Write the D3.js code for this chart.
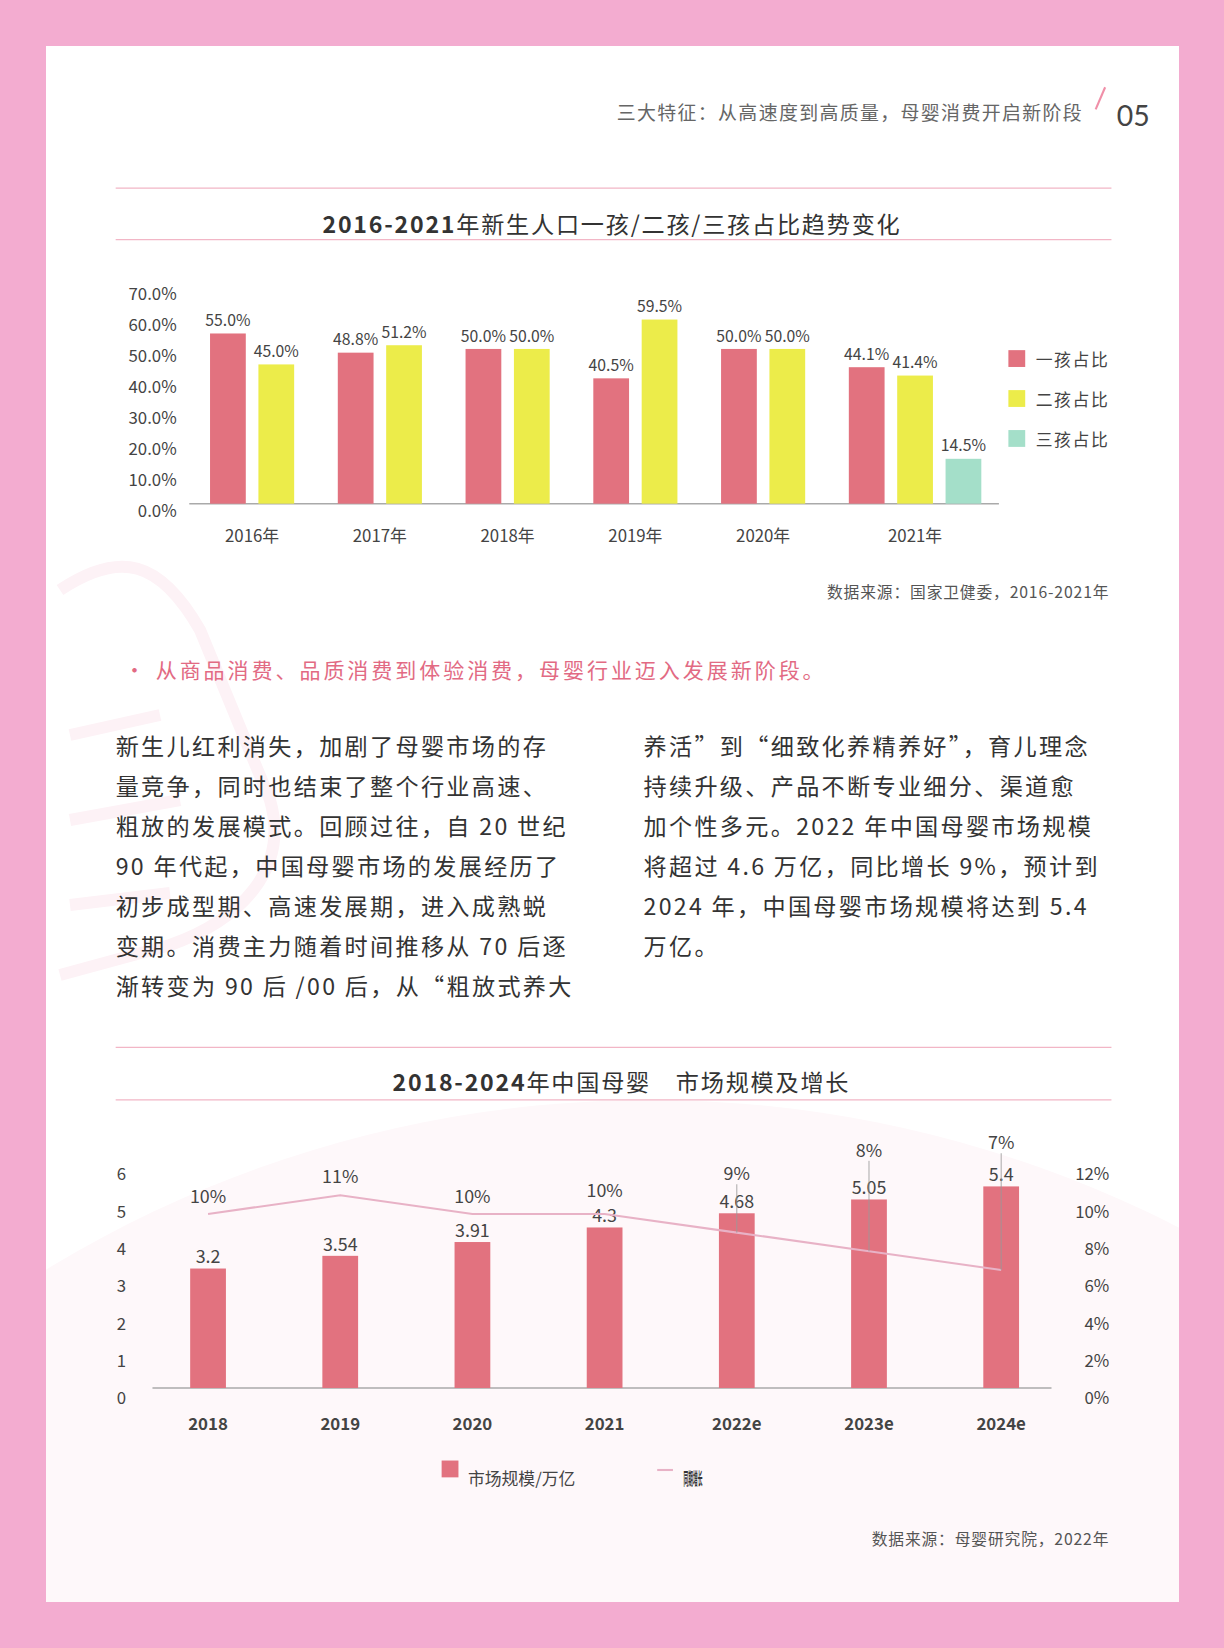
<!DOCTYPE html>
<html><head><meta charset="utf-8">
<script src="https://cdn.jsdelivr.net/npm/d3@7"></script>
<style>body{margin:0;background:#f3acd0}svg{display:block}</style>
</head><body><svg id="c" width="1224" height="1648"></svg>
<script>
const years1 = ["2016年","2017年","2018年","2019年","2020年","2021年"];
const first = [55.0,48.8,50.0,40.5,50.0,44.1];
const second = [45.0,51.2,50.0,59.5,50.0,41.4];
const third = [null,null,null,null,null,14.5];
const series1Names = ["一孩占比","二孩占比","三孩占比"];
const yTicks1 = [0,10,20,30,40,50,60,70];

const years2 = ["2018","2019","2020","2021","2022e","2023e","2024e"];
const market = [3.2,3.54,3.91,4.3,4.68,5.05,5.4];
const growth = [10,11,10,10,9,8,7];
const yTicksL = [0,1,2,3,4,5,6];
const yTicksR = [0,2,4,6,8,10,12];

const para1 = ["新生儿红利消失，加剧了母婴市场的存","量竞争，同时也结束了整个行业高速、","粗放的发展模式。回顾过往，自 20 世纪","90 年代起，中国母婴市场的发展经历了","初步成型期、高速发展期，进入成熟蜕","变期。消费主力随着时间推移从 70 后逐","渐转变为 90 后 /00 后，从“粗放式养大"];
const para2 = ["养活”到“细致化养精养好”，育儿理念","持续升级、产品不断专业细分、渠道愈","加个性多元。2022 年中国母婴市场规模","将超过 4.6 万亿，同比增长 9%，预计到","2024 年，中国母婴市场规模将达到 5.4","万亿。"];

const root = d3.select("#c");
root.append("defs").append("clipPath").attr("id","pc").append("rect").attr("x",46).attr("y",46).attr("width",1133).attr("height",1556);
root.append("rect").attr("x",46).attr("y",46).attr("width",1133).attr("height",1556).attr("fill","#fff");
const bg = root.append("g").attr("clip-path","url(#pc)");
const wm = bg.append("g").attr("fill","none").attr("stroke","#fdf2f6").attr("stroke-width",12);
wm.append("path").attr("d","M60,590 C120,550 160,560 200,630 L270,800 C290,870 240,920 170,945 L60,975");
wm.append("path").attr("d","M70,735 L160,715 M70,820 L180,800 M70,905 L170,893");
bg.append("circle").attr("cx",650).attr("cy",2260).attr("r",1160).attr("fill","#fef8fa");
const svg = root.append("g").attr("transform","scale(1.0515)");
const F = "'Noto Sans CJK SC','Noto Sans',sans-serif";
const pink="#e2727f", yellow="#ecec4a", teal="#a4dfc9", txt="#444";

svg.append("text").attr("x",1030).attr("y",114).attr("text-anchor","end").attr("font-family",F).attr("font-size",18).attr("fill","#666").attr("letter-spacing",1.3).text("三大特征：从高速度到高质量，母婴消费开启新阶段");
svg.append("line").attr("x1",1042).attr("y1",104).attr("x2",1051).attr("y2",83).attr("stroke","#f08fa8").attr("stroke-width",2);
svg.append("text").attr("x",1062).attr("y",120).attr("font-family","Lato,sans-serif").attr("font-size",27).attr("fill","#444").text("05");

function hline(y){svg.append("line").attr("x1",110).attr("x2",1057).attr("y1",y).attr("y2",y).attr("stroke","#f2b6c6").attr("stroke-width",1.2);}
hline(179); hline(228);
const t1=svg.append("text").attr("x",582).attr("y",222).attr("text-anchor","middle").attr("font-family",F).attr("font-size",22).attr("letter-spacing",1.7).attr("fill","#333");
t1.append("tspan").attr("font-weight","bold").text("2016-2021"); t1.append("tspan").text("年新生人口一孩/二孩/三孩占比趋势变化");

const y1 = d3.scaleLinear().domain([0,70]).range([479,273]);
const x1 = d3.scaleBand().domain(years1).range([179,908]);
svg.append("g").attr("transform","translate(168,7)").call(d3.axisLeft(y1).tickValues(yTicks1).tickFormat(d=>d.toFixed(1)+"%").tickSize(0).tickPadding(0))
 .call(g=>{g.select(".domain").remove();g.selectAll("text").attr("font-family",F).attr("font-size",16).attr("fill",txt);});
svg.append("line").attr("x1",180).attr("x2",950).attr("y1",479).attr("y2",479).attr("stroke","#aaa").attr("stroke-width",1.5);
const bw=34, step=46;
years1.forEach((yr,i)=>{
  const c=x1(yr)+x1.bandwidth()/2;
  const vals=[first[i],second[i],third[i]];
  vals.forEach((v,j)=>{ if(v==null)return;
    const bx=c-step/2+j*step-bw/2;
    svg.append("rect").attr("x",bx).attr("y",y1(v)).attr("width",bw).attr("height",479-y1(v)).attr("fill",[pink,yellow,teal][j]);
    svg.append("text").attr("x",bx+bw/2).attr("y",y1(v)-7).attr("text-anchor","middle").attr("font-family",F).attr("font-size",15).attr("fill",txt).text(v.toFixed(1)+"%");
  });
  const lc = third[i]!=null ? c+step/2 : c;
  svg.append("text").attr("x",lc).attr("y",515).attr("text-anchor","middle").attr("font-family",F).attr("font-size",16).attr("fill",txt).text(yr);
});
series1Names.forEach((s,j)=>{
  svg.append("rect").attr("x",959).attr("y",333+j*38).attr("width",16).attr("height",16).attr("fill",[pink,yellow,teal][j]);
  svg.append("text").attr("x",985).attr("y",348+j*38).attr("font-family",F).attr("font-size",16).attr("fill",txt).attr("letter-spacing",1.5).text(s);
});
svg.append("text").attr("x",1055).attr("y",569).attr("text-anchor","end").attr("font-family",F).attr("font-size",15).attr("fill","#555").attr("letter-spacing",0.8).text("数据来源：国家卫健委，2016-2021年");

svg.append("text").attr("x",118).attr("y",645).attr("font-family",F).attr("font-size",20).attr("fill","#e26a83").attr("letter-spacing",2.8).text("· 从商品消费、品质消费到体验消费，母婴行业迈入发展新阶段。");
para1.forEach((l,i)=>svg.append("text").attr("x",110).attr("y",718+i*38).attr("font-family",F).attr("font-size",22).attr("fill","#333").attr("letter-spacing",2.2).text(l));
para2.forEach((l,i)=>svg.append("text").attr("x",612).attr("y",718+i*38).attr("font-family",F).attr("font-size",22).attr("fill","#333").attr("letter-spacing",2.2).text(l));

hline(996); hline(1046);
const t2=svg.append("text").attr("x",591).attr("y",1038).attr("text-anchor","middle").attr("font-family",F).attr("font-size",22).attr("letter-spacing",1.7).attr("fill","#333");
t2.append("tspan").attr("font-weight","bold").text("2018-2024"); t2.append("tspan").text("年中国母婴　市场规模及增长");

const x2 = d3.scaleBand().domain(years2).range([135,1015]);
const yL = d3.scaleLinear().domain([0,6]).range([1320,1107]);
const yR = d3.scaleLinear().domain([0,12]).range([1320,1107]);
svg.append("g").attr("transform","translate(120,10)").call(d3.axisLeft(yL).tickValues(yTicksL).tickFormat(d3.format("d")).tickSize(0).tickPadding(0))
 .call(g=>{g.select(".domain").remove();g.selectAll("text").attr("font-family",F).attr("font-size",16).attr("fill",txt);});
svg.append("g").attr("transform","translate(1055,10)").call(d3.axisLeft(yR).tickValues(yTicksR).tickFormat(d=>d+"%").tickSize(0).tickPadding(0))
 .call(g=>{g.select(".domain").remove();g.selectAll("text").attr("font-family",F).attr("font-size",16).attr("fill",txt);});
svg.append("line").attr("x1",145).attr("x2",1000).attr("y1",1320).attr("y2",1320).attr("stroke","#aaa").attr("stroke-width",1.5);
const cx2=d=>x2(d)+x2.bandwidth()/2;
years2.forEach((d,i)=>{
  svg.append("rect").attr("x",cx2(d)-17).attr("y",yL(market[i])).attr("width",34).attr("height",1320-yL(market[i])).attr("fill",pink);
  svg.append("text").attr("x",cx2(d)).attr("y",yL(market[i])-5).attr("text-anchor","middle").attr("font-family",F).attr("font-size",17).attr("fill",txt).text(market[i]);
  svg.append("text").attr("x",cx2(d)).attr("y",1360).attr("text-anchor","middle").attr("font-family",F).attr("font-size",16).attr("font-weight","bold").attr("fill",txt).text(d);
});
const line=d3.line().x((v,i)=>cx2(years2[i])).y(v=>yR(v)+12);
svg.append("path").attr("d",line(growth)).attr("fill","none").attr("stroke","#e8b2c6").attr("stroke-width",2);
const labOff=[10,12,10,16,50,90,115];
growth.forEach((v,i)=>{
  const x=cx2(years2[i]), py=yR(v)+12, y=py-labOff[i];
  if(labOff[i]>20) svg.append("line").attr("x1",x).attr("x2",x).attr("y1",y+4).attr("y2",py).attr("stroke","#999").attr("stroke-width",0.8);
  svg.append("text").attr("x",x).attr("y",y).attr("text-anchor","middle").attr("font-family",F).attr("font-size",17).attr("fill",txt).text(v+"%");
});
svg.append("rect").attr("x",420).attr("y",1389).attr("width",16).attr("height",16).attr("fill",pink);
svg.append("text").attr("x",445).attr("y",1412).attr("font-family",F).attr("font-size",16).attr("fill",txt).text("市场规模/万亿");
svg.append("line").attr("x1",625).attr("x2",640).attr("y1",1398).attr("y2",1398).attr("stroke","#e8b2c6").attr("stroke-width",2);
svg.append("text").attr("x",650).attr("y",1412).attr("font-family",F).attr("font-size",16).attr("font-weight","bold").attr("fill","#333").attr("textLength",18).attr("lengthAdjust","spacingAndGlyphs").text("同期增长");
svg.append("text").attr("x",1055).attr("y",1469).attr("text-anchor","end").attr("font-family",F).attr("font-size",15).attr("fill","#555").attr("letter-spacing",0.8).text("数据来源：母婴研究院，2022年");
</script></body></html>
